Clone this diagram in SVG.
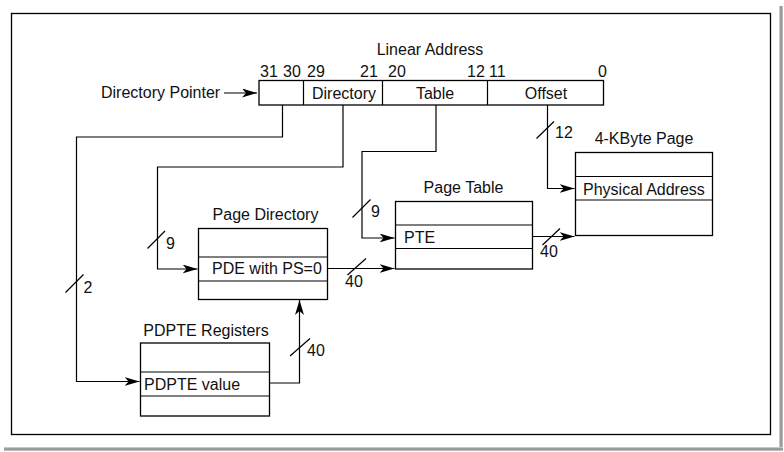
<svg xmlns="http://www.w3.org/2000/svg" width="784" height="452" viewBox="0 0 784 452">
<style>
text{font-family:"Liberation Sans",Arial,sans-serif;font-size:16px;fill:#111}
.box{fill:#fff;stroke:#000;stroke-width:1.3}
.ln{fill:none;stroke:#000;stroke-width:1.2}
.c{text-anchor:middle}
</style>
<defs>
<marker id="ah" markerUnits="userSpaceOnUse" markerWidth="16" markerHeight="10" refX="15" refY="4.5" orient="auto">
<path d="M0,0 L15,4.5 L0,9 L4,4.5 z" fill="#000"/>
</marker>
<linearGradient id="sv" x1="0" x2="1" y1="0" y2="0"><stop offset="0" stop-color="#ddd"/><stop offset="0.5" stop-color="#888"/><stop offset="1" stop-color="#ccc"/></linearGradient>
<linearGradient id="sh" x1="0" x2="0" y1="0" y2="1"><stop offset="0" stop-color="#ddd"/><stop offset="0.5" stop-color="#888"/><stop offset="1" stop-color="#ccc"/></linearGradient>
</defs>
<rect width="784" height="452" fill="#fff"/>
<g id="frame">
<rect x="779" y="6" width="4" height="445" fill="url(#sv)"/>
<rect x="4" y="447" width="779" height="4" fill="url(#sh)"/>
<rect x="11.5" y="13.5" width="759" height="421" fill="none" stroke="#000" stroke-width="1.3"/>
</g>
<g id="linear-address">
<text class="c" x="430" y="55">Linear Address</text>
<text x="260" y="77">31</text>
<text x="283" y="77">30</text>
<text x="307" y="77">29</text>
<text x="360" y="77">21</text>
<text x="388" y="77">20</text>
<text x="467" y="77">12</text>
<text x="489" y="77">11</text>
<text x="598" y="77">0</text>
<rect class="box" x="259" y="80.5" width="344.5" height="24.5"/>
<path class="ln" d="M303.5,80.5V105M382.5,80.5V105M487.5,80.5V105"/>
<text class="c" x="344" y="99">Directory</text>
<text class="c" x="435" y="99">Table</text>
<text class="c" x="546" y="99">Offset</text>
<text x="101" y="98">Directory Pointer</text>
</g>
<g id="page-directory">
<text class="c" x="265.5" y="220">Page Directory</text>
<rect class="box" x="198.5" y="228.5" width="129" height="71"/>
<path class="ln" d="M198.5,257H327.5M198.5,281H327.5"/>
<text x="212" y="274">PDE with PS=0</text>
</g>
<g id="page-table">
<text class="c" x="463.5" y="193">Page Table</text>
<rect class="box" x="395.5" y="201.5" width="137" height="67.5"/>
<path class="ln" d="M395.5,225H532.5M395.5,248.5H532.5"/>
<text x="404" y="243">PTE</text>
</g>
<g id="page-4k">
<text class="c" x="644" y="144">4-KByte Page</text>
<rect class="box" x="575.5" y="152.5" width="137" height="83"/>
<path class="ln" d="M575.5,176.5H712.5M575.5,200H712.5"/>
<text x="583" y="195">Physical Address</text>
</g>
<g id="pdpte">
<text class="c" x="206" y="336">PDPTE Registers</text>
<rect class="box" x="140.5" y="343" width="129" height="73"/>
<path class="ln" d="M140.5,372H269.5M140.5,396H269.5"/>
<text x="144" y="390">PDPTE value</text>
</g>
<g id="connectors">
<path class="ln" marker-end="url(#ah)" d="M224,93H257"/>
<path class="ln" marker-end="url(#ah)" d="M282.5,105V137H76.5V381.5H139.5"/>
<path class="ln" marker-end="url(#ah)" d="M343,105V167H157.5V269H197.5"/>
<path class="ln" marker-end="url(#ah)" d="M436,105V151.5H362V238H394.5"/>
<path class="ln" marker-end="url(#ah)" d="M547.5,105V188.5H574.5"/>
<path class="ln" marker-end="url(#ah)" d="M327.5,268.5H394.5"/>
<path class="ln" marker-end="url(#ah)" d="M532.5,236.5H574.5"/>
<path class="ln" marker-end="url(#ah)" d="M269.5,383H299.5V300"/>
<path class="ln" d="M536.5,138.5L554,121.5M352.5,217.5L370.5,199.5M147.5,248.5L165,231M65.5,292.5L83.5,274.5M347.5,275L366,258.5M542.5,245L560,228.5M290,356L310,338.5"/>
<text x="555" y="138">12</text>
<text x="371" y="217">9</text>
<text x="166" y="248.5">9</text>
<text x="83.5" y="293">2</text>
<text x="345" y="287">40</text>
<text x="540" y="257">40</text>
<text x="307" y="356">40</text>
</g>
</svg>
